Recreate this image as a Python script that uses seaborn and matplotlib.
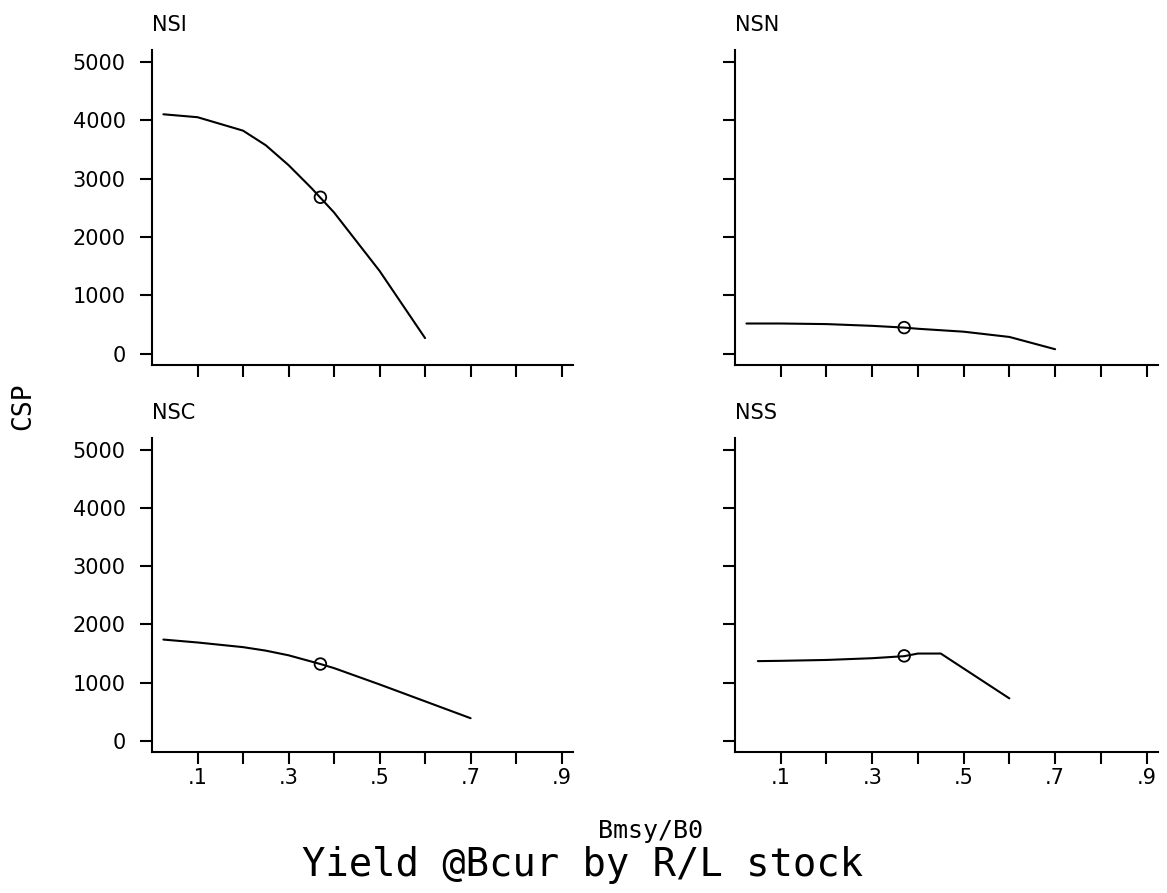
import numpy as np
import pandas as pd
import matplotlib
matplotlib.use("Agg")
import matplotlib.pyplot as plt
import seaborn as sns

# ---- data ----
stocks = ["NSI", "NSN", "NSC", "NSS"]

nsi_x = [0.025, 0.10, 0.20, 0.25, 0.30, 0.35, 0.40, 0.50, 0.60]
nsi_y = [4100, 4050, 3820, 3570, 3230, 2840, 2420, 1420, 270]

nsn_x = [0.025, 0.10, 0.20, 0.30, 0.37, 0.40, 0.50, 0.60, 0.70]
nsn_y = [520, 520, 510, 480, 450, 430, 380, 290, 80]

nsc_x = [0.025, 0.10, 0.20, 0.25, 0.30, 0.37, 0.40, 0.50, 0.60, 0.70]
nsc_y = [1740, 1690, 1610, 1550, 1470, 1320, 1250, 970, 680, 390]

nss_x = [0.05, 0.10, 0.20, 0.30, 0.37, 0.40, 0.45, 0.60]
nss_y = [1370, 1375, 1390, 1420, 1455, 1500, 1500, 730]

bcur_x = [0.37, 0.37, 0.37, 0.37]
bcur_y = [2680, 450, 1320, 1460]

xticks = [0.1, 0.2, 0.3, 0.4, 0.5, 0.6, 0.7, 0.8, 0.9]
xtick_labels = [".1", "", ".3", "", ".5", "", ".7", "", ".9"]
yticks = [0, 1000, 2000, 3000, 4000, 5000]

curves = {
    "NSI": (nsi_x, nsi_y),
    "NSN": (nsn_x, nsn_y),
    "NSC": (nsc_x, nsc_y),
    "NSS": (nss_x, nss_y),
}

# ---- style ----
sns.set_style("ticks")
plt.rcParams["font.family"] = ["DejaVu Sans"]
plt.rcParams["text.color"] = "black"
plt.rcParams["axes.labelcolor"] = "black"
plt.rcParams["xtick.color"] = "black"
plt.rcParams["ytick.color"] = "black"

W, H = 1167, 893
fig = plt.figure(figsize=(W / 100, H / 100), dpi=100)


def rect(l, r, t, b):
    return [l / W, 1 - b / H, (r - l) / W, (b - t) / H]


rects = {
    "NSI": rect(152, 573, 50, 365),
    "NSN": rect(735, 1158, 50, 365),
    "NSC": rect(152, 573, 438, 752),
    "NSS": rect(735, 1158, 438, 752),
}

for i, s in enumerate(stocks):
    ax = fig.add_axes(rects[s])
    xs, ys = curves[s]
    df = pd.DataFrame({"x": xs, "y": ys})
    sns.lineplot(data=df, x="x", y="y", ax=ax, color="black", linewidth=1.5,
                 sort=False, estimator=None)
    dm = pd.DataFrame({"x": [bcur_x[i]], "y": [bcur_y[i]]})
    sns.scatterplot(data=dm, x="x", y="y", ax=ax, s=70, marker="o",
                    facecolor="none", edgecolor="black", linewidth=1.3,
                    zorder=5)
    ax.set_xlim(0, 0.925)
    ax.set_ylim(-190, 5200)
    ax.set_xticks(xticks)
    ax.set_yticks(yticks)
    bottom_row = s in ("NSC", "NSS")
    left_col = s in ("NSI", "NSC")
    ax.set_xticklabels(xtick_labels if bottom_row else [""] * len(xticks))
    ax.set_yticklabels([str(v) for v in yticks] if left_col else [""] * len(yticks))
    ax.set_xlabel("")
    ax.set_ylabel("")
    for sp in ("top", "right"):
        ax.spines[sp].set_visible(False)
    for sp in ("left", "bottom"):
        ax.spines[sp].set_linewidth(1.5)
        ax.spines[sp].set_color("black")
    ax.tick_params(axis="y", direction="out", length=8.5, width=1.5,
                   pad=10.5, labelsize=15, colors="black")
    ax.tick_params(axis="x", direction="out", length=8.5, width=1.5,
                   pad=3, labelsize=15, colors="black")
    ax.set_title(s, loc="left", pad=14, fontsize=15, color="black")

mono = ["DejaVu Sans Mono"]
fig.text(23 / W, 1 - 406 / H, "CSP", rotation=90, ha="center", va="center",
         fontsize=19, family=mono, color="black")
fig.text(650 / W, 1 - 838 / H, "Bmsy/B0", ha="center", va="baseline",
         fontsize=18, family=mono, color="black")
fig.text(583 / W, 1 - 876 / H, "Yield @Bcur by R/L stock", ha="center",
         va="baseline", fontsize=28, family=mono, color="black")

fig.savefig("out.png", dpi=100)
